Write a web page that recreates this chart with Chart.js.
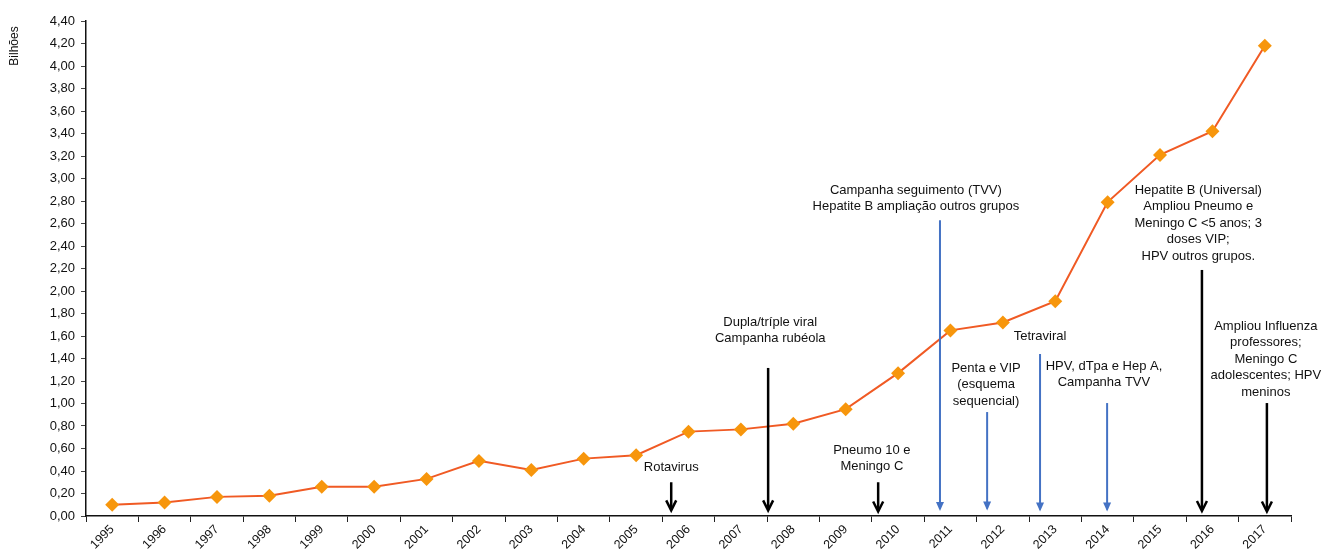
<!DOCTYPE html>
<html>
<head>
<meta charset="utf-8">
<script src="https://cdn.jsdelivr.net/npm/chart.js@4/dist/chart.umd.min.js"></script>
<style>
  body { margin: 0; background: #fff; }
</style>
</head>
<body>
<canvas id="vacChart" width="1323" height="549"></canvas>
<script>
// Anos e valores (bilhões)
let years = ['1995', '1996', '1997', '1998', '1999', '2000', '2001', '2002', '2003', '2004', '2005', '2006',
    '2007', '2008', '2009', '2010', '2011', '2012', '2013', '2014', '2015', '2016', '2017'];
let values = [0.10, 0.12, 0.17, 0.18, 0.26, 0.26, 0.33, 0.49, 0.41, 0.51, 0.54, 0.75,
    0.77, 0.82, 0.95, 1.27, 1.65, 1.72, 1.91, 2.79, 3.21, 3.42, 4.18];
let axisTitle = 'Bilhões';

// Anotações: texto, posição do texto (índice do ano, valor), seta (índice, topo, base)
let noteTexts = [
    'Rotavirus',
    'Dupla/tríple viral\nCampanha rubéola',
    'Pneumo 10 e\nMeningo C',
    'Campanha seguimento (TVV)\nHepatite B ampliação outros grupos',
    'Penta e VIP\n(esquema\nsequencial)',
    'Tetraviral',
    'HPV, dTpa e Hep A,\nCampanha TVV',
    'Hepatite B (Universal)\nAmpliou Pneumo e\nMeningo C <5 anos; 3\ndoses VIP;\nHPV outros grupos.',
    'Ampliou Influenza\nprofessores;\nMeningo C\nadolescentes; HPV\nmeninos'
];
let noteTextX = [10.67, 12.56, 14.50, 15.34, 16.68, 17.71, 18.93, 20.73, 22.02];
let noteTextY = [0.436, 1.724, 0.587, 2.898, 1.316, 1.60, 1.333, 2.898, 1.689];
let arrowX = [10.67, 12.52, 14.62, 15.80, 16.70, 17.71, 18.99, 20.80, 22.04];
let arrowTop = [0.30, 1.316, 0.30, 2.63, 0.924, 1.44, 1.004, 2.187, 1.004];
let arrowBottom = [0.05, 0.05, 0.04, 0.045, 0.05, 0.04, 0.04, 0.045, 0.04];
let arrowBlue = [false, false, false, true, true, true, true, false, false];

let fontName = '"Liberation Sans", Arial, sans-serif';

// Plugin simples para desenhar os textos, as setas e o título do eixo
let notesPlugin = {
    id: 'notes',
    afterDatasetsDraw(chart) {
        let ctx = chart.ctx;
        let xs = chart.scales.x;
        let ys = chart.scales.y;
        ctx.save();

        // título do eixo Y, rotacionado, perto do topo
        ctx.save();
        ctx.translate(15, 46);
        ctx.rotate(-Math.PI / 2);
        ctx.font = '12px ' + fontName;
        ctx.fillStyle = '#111';
        ctx.textAlign = 'center';
        ctx.textBaseline = 'middle';
        ctx.fillText(axisTitle, 0, 0);
        ctx.restore();

        ctx.font = '13px ' + fontName;
        ctx.textAlign = 'center';
        ctx.textBaseline = 'middle';
        for (let i = 0; i < noteTexts.length; i++) {
            ctx.fillStyle = '#111';
            let tx = xs.getPixelForValue(noteTextX[i]);
            let ty = ys.getPixelForValue(noteTextY[i]);
            noteTexts[i].split('\n').forEach((line, k) => {
                ctx.fillText(line, tx, ty + k * 16.5);
            });

            let ax = xs.getPixelForValue(arrowX[i]);
            let top = ys.getPixelForValue(arrowTop[i]);
            let tip = ys.getPixelForValue(arrowBottom[i]);
            let color = arrowBlue[i] ? '#4472C4' : '#000';
            ctx.strokeStyle = color;
            ctx.fillStyle = color;
            ctx.lineWidth = arrowBlue[i] ? 2 : 2.5;
            ctx.beginPath();
            ctx.moveTo(ax, top);
            ctx.lineTo(ax, tip - 2);
            ctx.stroke();
            if (arrowBlue[i]) {
                ctx.beginPath();
                ctx.moveTo(ax, tip);
                ctx.lineTo(ax - 4, tip - 9);
                ctx.lineTo(ax + 4, tip - 9);
                ctx.closePath();
                ctx.fill();
            } else {
                ctx.beginPath();
                ctx.moveTo(ax - 5, tip - 10);
                ctx.lineTo(ax, tip);
                ctx.lineTo(ax + 5, tip - 10);
                ctx.stroke();
            }
        }
        ctx.restore();
    }
};

let ctx = document.getElementById('vacChart').getContext('2d');
let chart = new Chart(ctx, {
    type: 'line',
    data: {
        labels: years,
        datasets: [{
            data: values,
            borderColor: '#F05A24',
            borderWidth: 2,
            tension: 0,
            pointStyle: 'rectRot',
            pointRadius: 7,
            pointBorderWidth: 0,
            pointBackgroundColor: '#F7960C',
            pointBorderColor: '#F7960C'
        }]
    },
    options: {
        responsive: false,
        animation: false,
        layout: { padding: { top: 21, right: 32, left: 0, bottom: 0 } },
        plugins: {
            legend: { display: false },
            tooltip: { enabled: false }
        },
        scales: {
            x: {
                offset: true,
                grid: { offset: true, drawOnChartArea: false, color: '#222', tickLength: 6 },
                border: { color: '#111', width: 1.5 },
                ticks: {
                    maxRotation: 45,
                    minRotation: 45,
                    padding: 0,
                    color: '#111',
                    font: { family: fontName, size: 12.5 }
                },
                afterFit(axis) { axis.height = 33; }
            },
            y: {
                min: 0,
                max: 4.4,
                grid: { drawOnChartArea: false, color: '#444', tickLength: 5 },
                border: { color: '#111', width: 1.5 },
                ticks: {
                    stepSize: 0.2,
                    padding: 6,
                    color: '#111',
                    font: { family: fontName, size: 13 },
                    callback: v => v.toFixed(2).replace('.', ',')
                },
                afterFit(axis) { axis.width = 86; }
            }
        }
    },
    plugins: [notesPlugin]
});
</script>
</body>
</html>
